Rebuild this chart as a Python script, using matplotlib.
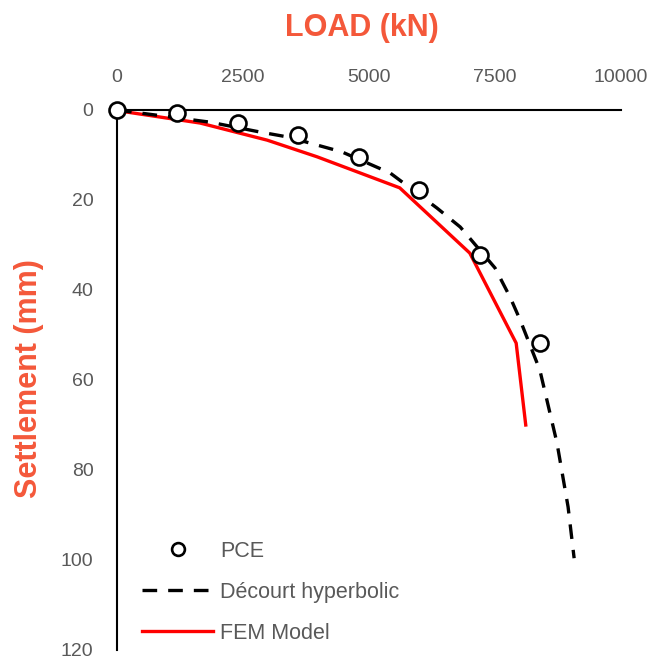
import matplotlib
matplotlib.use("Agg")
import matplotlib.pyplot as plt

# Data
pce_load = [0, 1200, 2400, 3600, 4800, 6000, 7200, 8400]
pce_settle = [0, 0.7, 2.9, 5.6, 10.4, 17.8, 32.2, 51.8]

decourt_load = [0, 1845, 2840, 3390, 4460, 5420, 6350, 6810, 7500, 7800, 8000, 8390, 8730, 8950, 9070]
decourt_settle = [0, 2.7, 4.9, 6.0, 9.3, 14.0, 21.8, 26.0, 35.1, 41.6, 46.7, 57.8, 74.0, 88.2, 99.6]

fem_load = [0, 160, 1650, 2980, 3970, 5610, 7000, 7920, 8110]
fem_settle = [0, 0.4, 2.9, 6.7, 10.4, 17.3, 31.8, 51.8, 70.0]

xticks = [0, 2500, 5000, 7500, 10000]
yticks = [0, 20, 40, 60, 80, 100, 120]

title_color = "#F4583A"
tick_color = "#595959"
font = ["Liberation Sans", "DejaVu Sans"]
plt.rcParams['font.family'] = font

fig = plt.figure(figsize=(6.54, 6.59), dpi=100)
ax = fig.add_axes([117/654, 1-650/659, (621-117)/654, (650-110)/659])

ax.plot(fem_load, fem_settle, color="#FF0000", lw=2.4, label="FEM Model", zorder=2)
ax.plot(decourt_load, decourt_settle, color="black", lw=2.4, ls=(0, (4.4, 3.3)),
        label="Décourt hyperbolic", zorder=3)
ax.plot(pce_load, pce_settle, ls="none", marker="o", ms=11.5, mfc="white", mec="black",
        mew=1.9, label="PCE", zorder=4, clip_on=False)

ax.set_xlim(0, 10000)
ax.set_ylim(120, 0)
ax.set_xticks(xticks)
ax.set_yticks(yticks)
ax.xaxis.tick_top()
ax.tick_params(axis="both", length=0, labelsize=14, colors=tick_color)
ax.tick_params(axis="x", pad=17)
ax.tick_params(axis="y", pad=17)
for s in ["right", "bottom"]:
    ax.spines[s].set_visible(False)
for s in ["top", "left"]:
    ax.spines[s].set_linewidth(1.5)
    ax.spines[s].set_color("black")

fig.text(362/654, 1-28/659, "LOAD (kN)", ha="center", va="center", fontsize=22,
         fontweight="bold", color=title_color)
fig.text(29/654, 1-379/659, "Settlement (mm)", ha="center", va="center", fontsize=22,
         fontweight="bold", color=title_color, rotation=90)

h, l = ax.get_legend_handles_labels()
order = [2, 1, 0]
leg = ax.legend([h[i] for i in order], [l[i] for i in order], frameon=False,
                loc="lower left", bbox_to_anchor=(6/504, -13/540), fontsize=15.5,
                handlelength=3.3, labelspacing=0.92, handletextpad=0.32,
                markerscale=0.8)
for t in leg.get_texts():
    t.set_color(tick_color)

fig.savefig("out.png", dpi=100)
